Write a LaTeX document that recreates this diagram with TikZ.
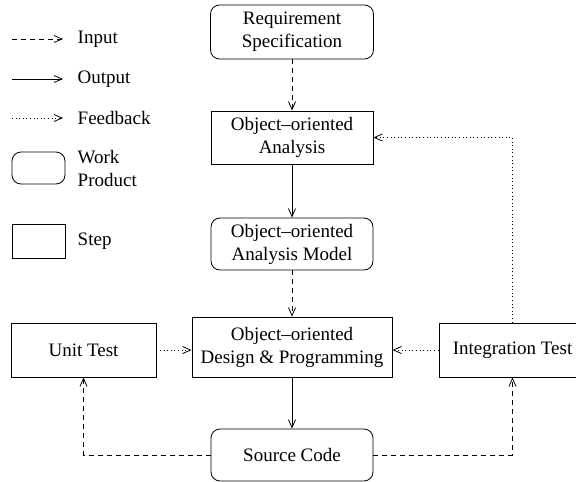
\documentclass[tikz,border=0pt]{standalone}
\usepackage{fontspec}
\setmainfont{Liberation Serif}
\usetikzlibrary{positioning, arrows.meta}

\begin{document}
\begin{tikzpicture}[x=1pt, y=-1pt, line width=0.8pt,
    font=\fontsize{19}{23}\selectfont,
    >={Straight Barb[length=8pt, width=7pt]},
    product/.style={draw, rounded corners=9pt, align=center, inner sep=0pt},
    stepbox/.style={draw, align=center, inner sep=0pt},
    input/.style={->, dash pattern=on 5pt off 4pt},
    output/.style={->},
    feedback/.style={->, dash pattern=on 1pt off 2.6pt}]

    \useasboundingbox (0,0) rectangle (576,482);

    % Legend
    \coordinate (in1) at (12,39);  \coordinate (in2) at (63,39);
    \coordinate (out1) at (12,79); \coordinate (out2) at (63,79);
    \coordinate (fb1) at (12,118); \coordinate (fb2) at (63,118);
    \draw[input] (in1) -- (in2);
    \draw[output] (out1) -- (out2);
    \draw[feedback] (fb1) -- (fb2);
    \node[anchor=west] (lin) at (74,39) {Input};
    \node[anchor=west] (lout) at (74,79) {Output};
    \node[anchor=west] (lfb) at (74,118) {Feedback};
    \node[product, minimum width=53pt, minimum height=32pt] (lwp) at (38.5,168) {};
    \node[anchor=west, align=left] (lwptext) at (74,168) {Work\\Product};
    \node[stepbox, minimum width=53pt, minimum height=34pt] (lstep) at (38.5,241) {};
    \node[anchor=west] (lsteptext) at (74,241) {Step};

    % Work products and steps
    \node[product, minimum width=163pt, minimum height=54pt] (req) at (292,32) {Requirement\\Specification};
    \node[stepbox, minimum width=162pt, minimum height=53pt] (ooa) at (292,137.5) {Object--oriented\\Analysis};
    \node[product, minimum width=162pt, minimum height=52pt] (oam) at (292,244) {Object--oriented\\Analysis Model};
    \node[stepbox, minimum width=200pt, minimum height=60pt] (odp) at (292,347) {Object--oriented\\Design \& Programming};
    \node[stepbox, minimum width=145pt, minimum height=54pt] (unit) at (83.5,350) {Unit Test};
    \node[stepbox, minimum width=147pt, minimum height=54pt] (integ) at (512.5,350) {Integration Test};
    \node[product, minimum width=162pt, minimum height=52pt] (src) at (292,455) {Source Code};

    % Flow
    \draw[input] (req) -- (ooa);
    \draw[output] (ooa) -- (oam);
    \draw[input] (oam) -- (odp);
    \draw[output] (odp) -- (src);
    \draw[feedback] (unit) -- (odp.west |- unit);
    \draw[feedback] (integ) -- (odp.east |- integ);
    \draw[feedback] (integ.north) |- (ooa.east);
    \draw[input] (src.west) -| (unit.south);
    \draw[input] (src.east) -| (integ.south);
\end{tikzpicture}
\end{document}
